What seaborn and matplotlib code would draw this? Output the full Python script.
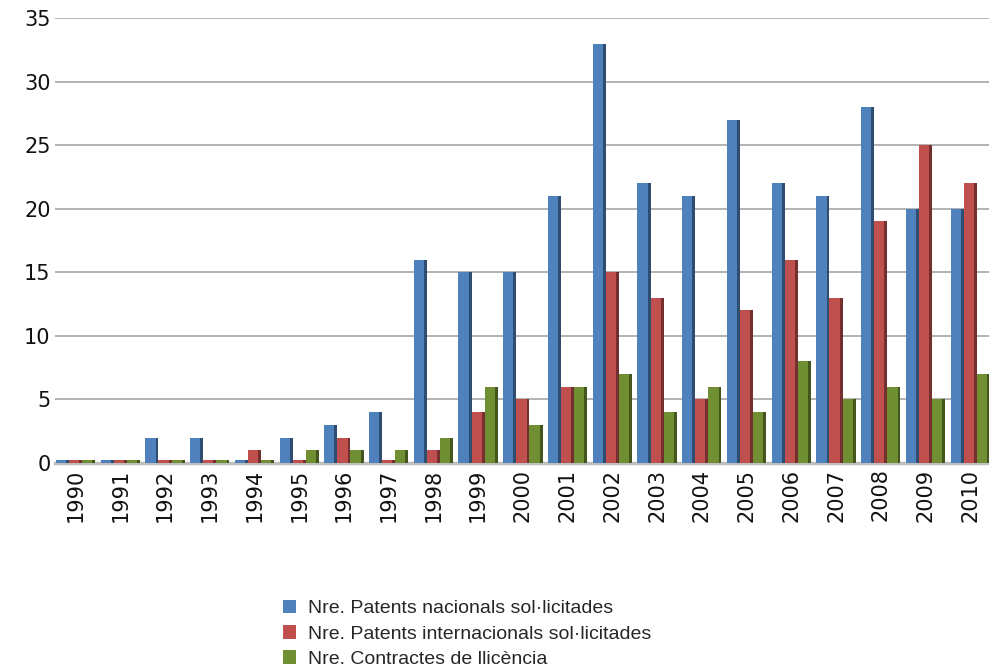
import pandas as pd
import seaborn as sns
import matplotlib.pyplot as plt
from matplotlib.patches import Rectangle
from matplotlib.colors import to_rgb

years = [str(y) for y in range(1990, 2011)]
nacionals = [0, 0, 2, 2, 0, 2, 3, 4, 16, 15, 15, 21, 33, 22, 21, 27, 22, 21, 28, 20, 20]
internacionals = [0, 0, 0, 0, 1, 0, 2, 0, 1, 4, 5, 6, 15, 13, 5, 12, 16, 13, 19, 25, 22]
llicencia = [0, 0, 0, 0, 0, 1, 1, 1, 2, 6, 3, 6, 7, 4, 6, 4, 8, 5, 6, 5, 7]

series_names = [
    "Nre. Patents nacionals sol·licitades",
    "Nre. Patents internacionals sol·licitades",
    "Nre. Contractes de llicència",
]
colors = ["#4f81bd", "#c0504d", "#6f8f32"]

rows = []
for name, vals in zip(series_names, [nacionals, internacionals, llicencia]):
    for y, v in zip(years, vals):
        rows.append({"Any": y, "Serie": name, "Valor": v})
df = pd.DataFrame(rows)

sns.set_style("white")
fig = plt.figure(figsize=(9.89, 6.71), dpi=100)
ax = fig.add_axes([0.056, 0.31, 0.944, 0.663])

sns.barplot(data=df, x="Any", y="Valor", hue="Serie", palette=colors,
            saturation=1, width=0.88, linewidth=0, ax=ax, legend=True, zorder=3)

# zero-height bars still show as a thin sliver in the original;
# darker right face gives the 3D look of the source chart
bars = [p for p in ax.patches if p.get_width() > 0 and p.get_height() >= 0]
for p in bars:
    if p.get_height() == 0:
        p.set_height(0.25)
    r, g, b = to_rgb(p.get_facecolor())
    side_w = p.get_width() * 0.22
    ax.add_patch(Rectangle((p.get_x() + p.get_width() - side_w, 0), side_w,
                           p.get_height(), facecolor=(r * 0.6, g * 0.6, b * 0.6),
                           linewidth=0, zorder=4))

ax.set_ylim(0, 35)
ax.set_xlim(-0.45, 20.42)
ax.set_yticks(range(0, 36, 5))
ax.yaxis.grid(True, color="#a6a6a6", linewidth=1.2, zorder=0)
ax.set_axisbelow(True)
for s in ["top", "right", "left"]:
    ax.spines[s].set_visible(False)
ax.spines["bottom"].set_color("#bfbfbf")
ax.spines["bottom"].set_linewidth(2.5)
ax.tick_params(axis="both", length=0, labelsize=15, colors="#111111")
ax.tick_params(axis="x", rotation=90, pad=4)
ax.set_xlabel("")
ax.set_ylabel("")

handles, labels = ax.get_legend_handles_labels()
ax.get_legend().remove()
fig.legend(handles, labels, loc="upper left", bbox_to_anchor=(0.278, 0.118),
           frameon=False, prop={"family": "Liberation Sans", "size": 14},
           handlelength=0.7, handleheight=0.7, handletextpad=0.6,
           labelspacing=0.4, borderaxespad=0)

fig.savefig("out.png", dpi=100)
